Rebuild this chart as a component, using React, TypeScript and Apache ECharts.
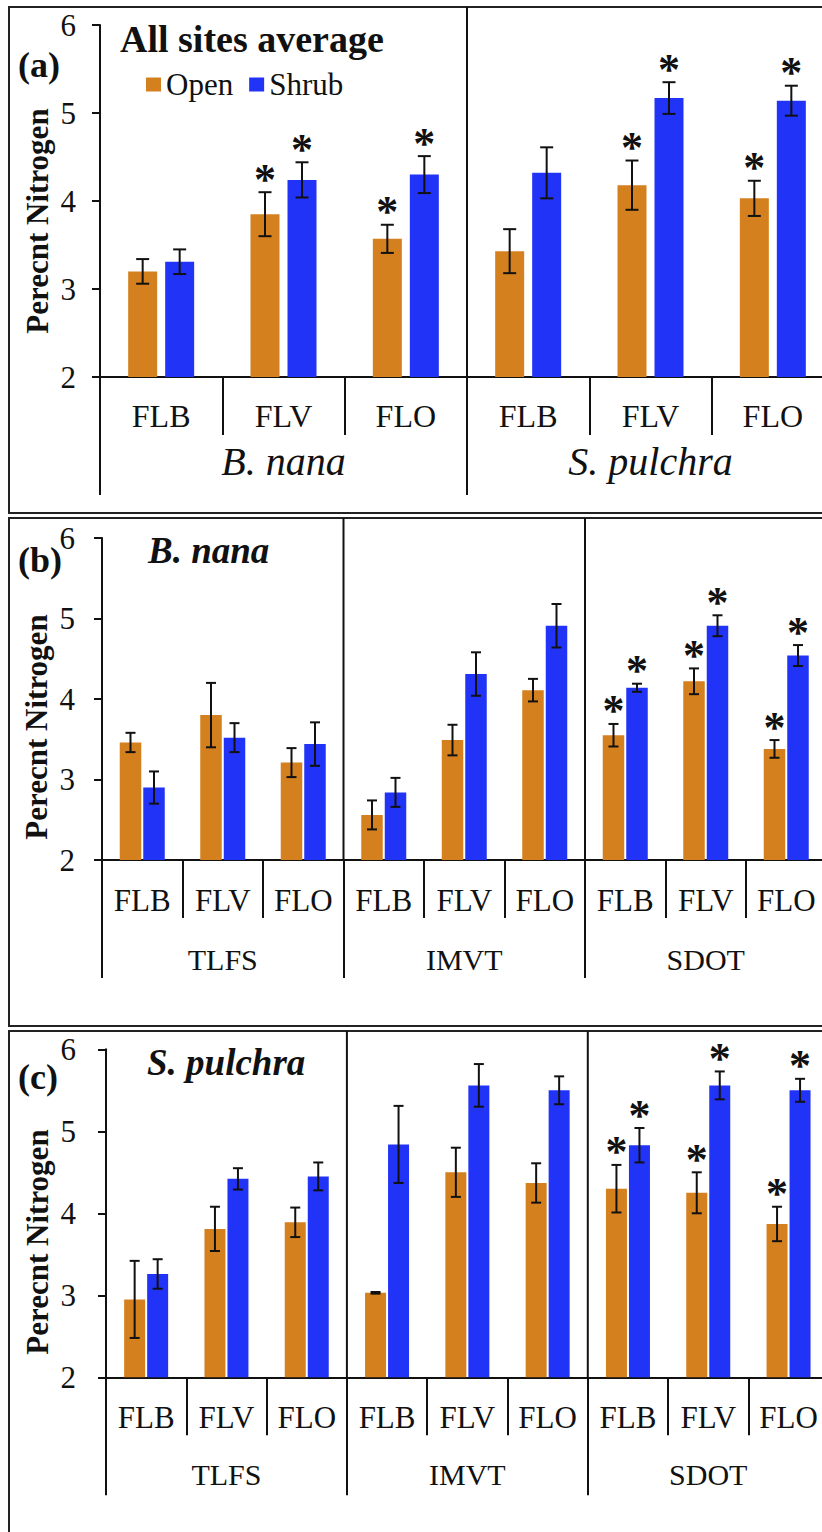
import React, { useEffect, useRef } from "react";
import * as echarts from "echarts";

const SERIF = '"Liberation Serif", "Times New Roman", "DejaVu Serif", serif';
const ORANGE = "#D4801E";
const BLUE = "#2233F8";
const INK = "#111111";
const FRAME = "#222222";

// ---------- Data ----------
const seriesNames = ["Open", "Shrub"];
const yMin = 2;
const yMax = 6;
const yStep = 1;

// Panel (a): all sites average
const categoriesA = ["FLB", "FLV", "FLO", "FLB", "FLV", "FLO"];
const groupsA = ["B. nana", "S. pulchra"];
const openA = [3.2, 3.85, 3.57, 3.43, 4.18, 4.03];
const openErrA = [0.14, 0.25, 0.16, 0.25, 0.28, 0.2];
const shrubA = [3.31, 4.24, 4.3, 4.32, 5.17, 5.14];
const shrubErrA = [0.14, 0.2, 0.21, 0.29, 0.18, 0.17];
const sigOpenA = [0, 1, 1, 0, 1, 1];
const sigShrubA = [0, 1, 1, 0, 1, 1];

// Panel (b): B. nana by site
const categoriesB = ["FLB", "FLV", "FLO", "FLB", "FLV", "FLO", "FLB", "FLV", "FLO"];
const groupsB = ["TLFS", "IMVT", "SDOT"];
const openB = [3.46, 3.8, 3.21, 2.56, 3.49, 4.11, 3.55, 4.22, 3.38];
const openErrB = [0.12, 0.4, 0.18, 0.18, 0.19, 0.14, 0.14, 0.16, 0.11];
const shrubB = [2.9, 3.52, 3.44, 2.84, 4.31, 4.91, 4.14, 4.91, 4.54];
const shrubErrB = [0.2, 0.18, 0.27, 0.18, 0.27, 0.27, 0.05, 0.13, 0.13];
const sigOpenB = [0, 0, 0, 0, 0, 0, 1, 1, 1];
const sigShrubB = [0, 0, 0, 0, 0, 0, 1, 1, 1];

// Panel (c): S. pulchra by site
const categoriesC = ["FLB", "FLV", "FLO", "FLB", "FLV", "FLO", "FLB", "FLV", "FLO"];
const groupsC = ["TLFS", "IMVT", "SDOT"];
const openC = [2.95, 3.81, 3.89, 3.03, 4.5, 4.37, 4.3, 4.25, 3.87];
const openErrC = [0.47, 0.27, 0.18, 0.01, 0.3, 0.24, 0.29, 0.25, 0.21];
const shrubC = [3.26, 4.42, 4.45, 4.84, 5.56, 5.5, 4.83, 5.56, 5.5];
const shrubErrC = [0.18, 0.13, 0.17, 0.47, 0.26, 0.17, 0.21, 0.17, 0.14];
const sigOpenC = [0, 0, 0, 0, 0, 0, 1, 1, 1];
const sigShrubC = [0, 0, 0, 0, 0, 0, 1, 1, 1];

const yAxisName = "Perecnt Nitrogen";

// ---------- Layout ----------
const LAYOUT = [
  {
    left: 100, top: 25, width: 734, height: 352,
    frameTop: 7, frameBottom: 513,
    sepDepth: 58, groupDepth: 118,
    barW: 29, gap: 8, cap: 13,
    catFont: 32, catMargin: 23, groupMargin: -54, groupFont: 40, groupItalic: true,
    yLabelMargin: 24, nameX: 37, nameY: 221,
    letter: "(a)", letterY: 65,
  },
  {
    left: 102, top: 538, width: 724.5, height: 322,
    frameTop: 518, frameBottom: 1026,
    sepDepth: 58, groupDepth: 118,
    barW: 21.5, gap: 2, cap: 10,
    catFont: 31, catMargin: 25, groupMargin: -34, groupFont: 30, groupItalic: false,
    yLabelMargin: 27, nameX: 36, nameY: 727,
    letter: "(b)", letterY: 560,
  },
  {
    left: 106, top: 1049.3, width: 722.7, height: 328,
    frameTop: 1031, frameBottom: 1560,
    sepDepth: 58, groupDepth: 118,
    barW: 21, gap: 2, cap: 10,
    catFont: 31, catMargin: 25, groupMargin: -36, groupFont: 30, groupItalic: false,
    yLabelMargin: 30, nameX: 37, nameY: 1242,
    letter: "(c)", letterY: 1077,
  },
];

const PANELS = [
  { cats: categoriesA, groups: groupsA, open: openA, openErr: openErrA, shrub: shrubA, shrubErr: shrubErrA, sigOpen: sigOpenA, sigShrub: sigShrubA },
  { cats: categoriesB, groups: groupsB, open: openB, openErr: openErrB, shrub: shrubB, shrubErr: shrubErrB, sigOpen: sigOpenB, sigShrub: sigShrubB },
  { cats: categoriesC, groups: groupsC, open: openC, openErr: openErrC, shrub: shrubC, shrubErr: shrubErrC, sigOpen: sigOpenC, sigShrub: sigShrubC },
];

function errorSeries(name: string, values: number[], errs: number[], sigs: number[], axisIndex: number, sign: number, L: any) {
  return {
    type: "custom",
    name: name + " error",
    xAxisIndex: axisIndex,
    yAxisIndex: axisIndex,
    z: 5,
    data: values.map((v, i) => [i, v, errs[i], sigs[i]]),
    encode: { x: 0, y: 1 },
    renderItem: (_params: any, api: any) => {
      const i = api.value(0);
      const v = api.value(1);
      const e = api.value(2);
      const s = api.value(3);
      const top = api.coord([i, v + e]);
      const bot = api.coord([i, v - e]);
      const x = top[0] + (sign * (L.barW + L.gap)) / 2;
      const st = { stroke: INK, lineWidth: 2 };
      const children: any[] = [
        { type: "line", shape: { x1: x, y1: top[1], x2: x, y2: bot[1] }, style: st },
        { type: "line", shape: { x1: x - L.cap / 2, y1: top[1], x2: x + L.cap / 2, y2: top[1] }, style: st },
        { type: "line", shape: { x1: x - L.cap / 2, y1: bot[1], x2: x + L.cap / 2, y2: bot[1] }, style: st },
      ];
      if (s) {
        children.push({
          type: "text",
          x: x,
          y: top[1] - 13,
          style: {
            text: "*",
            fill: INK,
            font: `bold 44px ${SERIF}`,
            align: "center",
            verticalAlign: "middle",
          },
        });
      }
      return { type: "group", children };
    },
  };
}

function buildOption() {
  const grid: any[] = [];
  const xAxis: any[] = [];
  const yAxis: any[] = [];
  const series: any[] = [];
  const graphic: any[] = [];

  PANELS.forEach((p, k) => {
    const L = LAYOUT[k];
    const mi = 2 * k;
    const gi = 2 * k + 1;
    grid.push({ left: L.left, top: L.top, width: L.width, height: L.height, outerBoundsMode: "none", containLabel: false });
    grid.push({ left: L.left, top: L.top + L.height, width: L.width, height: L.groupDepth, outerBoundsMode: "none", containLabel: false });

    xAxis.push({
      type: "category",
      gridIndex: mi,
      data: p.cats,
      axisLine: { show: true, lineStyle: { color: INK, width: 2 } },
      axisTick: {
        show: true,
        length: L.sepDepth,
        interval: (idx: number) => idx % 3 !== 0,
        lineStyle: { color: INK, width: 2 },
      },
      axisLabel: { interval: 0, margin: L.catMargin, fontFamily: SERIF, fontSize: L.catFont, color: INK },
      splitLine: { show: false },
    });
    xAxis.push({
      type: "category",
      gridIndex: gi,
      data: p.groups,
      position: "bottom",
      axisLine: { show: false },
      axisTick: { show: false },
      axisLabel: {
        interval: 0,
        margin: L.groupMargin,
        fontFamily: SERIF,
        fontSize: L.groupFont,
        fontStyle: L.groupItalic ? "italic" : "normal",
        color: INK,
      },
      splitLine: { show: true, lineStyle: { color: INK, width: 2 } },
    });

    yAxis.push({
      type: "value",
      gridIndex: mi,
      min: yMin,
      max: yMax,
      interval: yStep,
      axisLine: { show: true, lineStyle: { color: INK, width: 2 } },
      axisTick: { show: true, length: 8, lineStyle: { color: INK, width: 2 } },
      axisLabel: { margin: L.yLabelMargin, fontFamily: SERIF, fontSize: 31, color: INK },
      splitLine: { show: false },
    });
    yAxis.push({ type: "value", gridIndex: gi, min: 0, max: 1, show: false });

    series.push({
      type: "bar",
      name: seriesNames[0],
      xAxisIndex: mi,
      yAxisIndex: mi,
      data: p.open,
      barWidth: L.barW,
      barGap: `${(L.gap / L.barW) * 100}%`,
      itemStyle: { color: ORANGE },
    });
    series.push({
      type: "bar",
      name: seriesNames[1],
      xAxisIndex: mi,
      yAxisIndex: mi,
      data: p.shrub,
      barWidth: L.barW,
      barGap: `${(L.gap / L.barW) * 100}%`,
      itemStyle: { color: BLUE },
    });
    series.push(errorSeries(seriesNames[0], p.open, p.openErr, p.sigOpen, mi, -1, L));
    series.push(errorSeries(seriesNames[1], p.shrub, p.shrubErr, p.sigShrub, mi, 1, L));

    // panel frame
    graphic.push({
      type: "rect",
      shape: { x: 9, y: L.frameTop, width: 900, height: L.frameBottom - L.frameTop },
      style: { fill: "none", stroke: FRAME, lineWidth: 2 },
      z: 1,
    });
    // group separators above the axis
    const n = p.groups.length;
    for (let g = 1; g < n; g++) {
      const x = L.left + (L.width * g) / n;
      graphic.push({
        type: "line",
        shape: { x1: x, y1: L.frameTop, x2: x, y2: L.top + L.height },
        style: { stroke: INK, lineWidth: 2 },
        z: 2,
      });
    }
    // y-axis name
    graphic.push({
      type: "text",
      x: L.nameX,
      y: L.nameY,
      rotation: Math.PI / 2,
      style: {
        text: yAxisName,
        font: `bold 31px ${SERIF}`,
        fill: INK,
        align: "center",
        verticalAlign: "middle",
      },
      z: 3,
    });
    // panel letter
    graphic.push({
      type: "text",
      x: 18,
      y: L.letterY,
      style: { text: L.letter, font: `bold 36px ${SERIF}`, fill: INK, align: "left", verticalAlign: "middle" },
      z: 3,
    });
  });

  graphic.push({
    type: "text",
    x: 120,
    y: 39,
    style: { text: "All sites average", font: `bold 38px ${SERIF}`, fill: INK, align: "left", verticalAlign: "middle" },
    z: 3,
  });
  graphic.push({
    type: "text",
    x: 148,
    y: 550,
    style: { text: "B. nana", font: `italic bold 37px ${SERIF}`, fill: INK, align: "left", verticalAlign: "middle" },
    z: 3,
  });
  graphic.push({
    type: "text",
    x: 147,
    y: 1062,
    style: { text: "S. pulchra", font: `italic bold 37px ${SERIF}`, fill: INK, align: "left", verticalAlign: "middle" },
    z: 3,
  });

  return {
    animation: false,
    backgroundColor: "#ffffff",
    textStyle: { fontFamily: SERIF },
    legend: {
      data: seriesNames,
      left: 146,
      top: 69,
      icon: "rect",
      itemWidth: 15,
      itemHeight: 14,
      itemGap: 16,
      padding: 0,
      textStyle: { fontFamily: SERIF, fontSize: 31, color: INK },
    },
    grid,
    xAxis,
    yAxis,
    series,
    graphic,
  };
}

export default function App() {
  const ref = useRef<HTMLDivElement>(null);
  useEffect(() => {
    if (!ref.current) return;
    const chart = echarts.init(ref.current, null, { renderer: "svg" });
    chart.setOption(buildOption() as any);
    return () => chart.dispose();
  }, []);
  return (
    <div
      ref={ref}
      style={{ position: "absolute", left: 0, top: 0, width: 822, height: 1532, background: "#ffffff" }}
    />
  );
}
